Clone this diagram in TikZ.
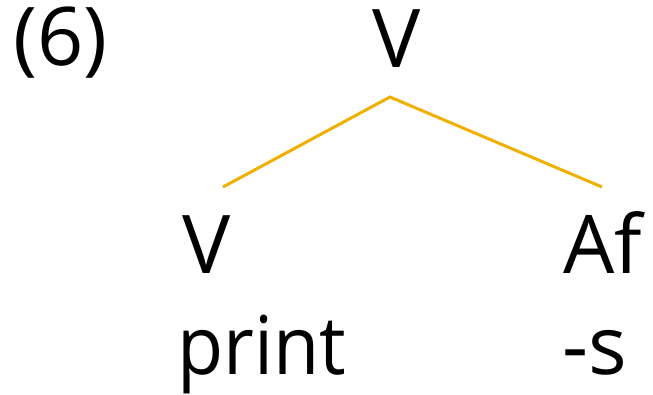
\documentclass[tikz,border=0pt]{standalone}
\usepackage{fontspec}
\setmainfont{Open Sans}
\newfontfamily\narrowfont[FakeStretch=0.93]{Open Sans}
\usetikzlibrary{positioning}
\definecolor{branch}{HTML}{F0B000}

\begin{document}
\begin{tikzpicture}[
  x=1pt,y=-1pt,
  font=\fontsize{81}{97}\selectfont,
  lab/.style={inner sep=0pt,anchor=base west},
  edge/.style={line width=3pt,branch},
]
\useasboundingbox (0,0) rectangle (653,395);
% labels
\node[lab] (num) at (13,66) {(6)};
\node[lab] (root) at (372,68) {V};
\node[lab] (vleft) at (182,273) {V};
\node[lab] (afright) at (563,273) {Af};
\node[lab,font=\narrowfont\fontsize{81}{97}\selectfont] (wleft) at (177,374) {print};
\node[lab] (wright) at (562,374) {-s};
% branches
\coordinate (apex) at (390,97);
\coordinate (lfoot) at (223,187);
\coordinate (rfoot) at (602,187);
\draw[edge] (lfoot)--(apex)--(rfoot);
\end{tikzpicture}
\end{document}
